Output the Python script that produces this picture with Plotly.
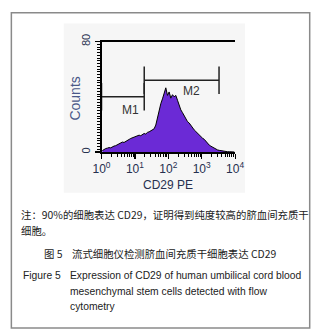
import numpy as np
import plotly.graph_objects as go

# ---------------- data ----------------
# histogram bins: centres in decades (log10 of CD29 PE channel), 0.05-decade wide
bin_log_centers = np.round(np.arange(0.025, 4.0, 0.05), 3)
counts = [
    1.0, 2.0, 2.5, 2.8, 3.2, 3.0, 3.8, 4.3, 4.6, 5.2,
    5.8, 6.4, 7.2, 6.9, 7.8, 8.6, 9.1, 9.8, 10.2, 10.8,
    11.0, 11.6, 12.2, 11.8, 12.5, 13.4, 13.0, 14.2, 14.6, 15.3,
    16.0, 16.8, 19.5, 25.0, 30.5, 35.0, 38.5, 42.0, 46.5, 41.0,
    43.5, 39.0, 41.5, 40.0, 41.0, 37.5, 33.0, 30.5, 28.5, 26.0,
    24.5, 22.0, 21.0, 19.0, 17.5, 16.0, 14.8, 13.5, 12.5, 11.0,
    10.0, 9.2, 7.5, 6.0, 5.0, 4.2, 3.4, 2.8, 2.0, 1.5,
    1.2, 0.9, 0.7, 0.5, 0.3, 0.2, 0.2, 0.1, 0.1, 0.0,
]
marker_names = ["M1", "M2"]
marker_lo = [1, 19]
marker_hi = [19, 3300]
marker_level = [40, 52]

x_tickvals = [1, 10, 100, 1000, 10000]
x_ticktext = ["10<sup>0</sup>", "10<sup>1</sup>", "10<sup>2</sup>", "10<sup>3</sup>", "10<sup>4</sup>"]
y_tickvals = [0, 80]
y_ticktext = ["0", "80"]

note_cn = ["注：90%的细胞表达 CD29，证明得到纯度较高的脐血间充质干", "细胞。"]
fig_cn_label = "图 5"
fig_cn_title = "流式细胞仪检测脐血间充质干细胞表达 CD29"
fig_en_label = "Figure 5"
fig_en_title = ["Expression of CD29 of human umbilical cord blood",
                "mesenchymal stem cells detected with flow",
                "cytometry"]

# ---------------- figure ----------------
W, H = 322, 333
def px(x):
    return x / W
def py(y):
    return 1 - y / H

LAT = "Liberation Sans, Arial, sans-serif"
CJK = "Noto Sans CJK SC, sans-serif"
NAVY = "#26304f"

fig = go.Figure()

fig.add_trace(go.Scatter(
    x=10 ** bin_log_centers, y=counts, mode="lines",
    line=dict(color="black", width=1), fill="tozeroy",
    fillcolor="#6b2ad6", hoverinfo="skip", showlegend=False))

TICK = 10
for name, lo, hi, lev in zip(marker_names, marker_lo, marker_hi, marker_level):
    fig.add_trace(go.Scatter(
        x=[lo, lo, None, lo, hi, None, hi, hi],
        y=[lev - TICK, lev + TICK, None, lev, lev, None, lev - TICK, lev + TICK],
        mode="lines", line=dict(color="#222", width=1.5),
        hoverinfo="skip", showlegend=False))

minor_x = [m * 10 ** e for e in range(4) for m in range(2, 10)]

fig.update_layout(
    width=W, height=H,
    margin=dict(l=0, r=0, t=0, b=0),
    paper_bgcolor="white", plot_bgcolor="rgba(0,0,0,0)",
    xaxis=dict(
        type="log", range=[0, 4], domain=[px(98), px(239.5)],
        showline=True, linecolor="black", linewidth=1.5, mirror=True,
        showgrid=False, zeroline=False,
        tickmode="array", tickvals=x_tickvals, ticktext=x_ticktext,
        ticks="outside", ticklen=5, tickwidth=1.2, tickcolor="black",
        tickfont=dict(family=LAT, size=12, color=NAVY),
        minor=dict(tickmode="array", tickvals=minor_x, ticks="outside",
                   ticklen=3, tickwidth=1, tickcolor="black"),
    ),
    yaxis=dict(
        range=[0, 80], domain=[py(148), py(34.5)],
        showline=True, linecolor="black", linewidth=2, mirror=False,
        showgrid=False, zeroline=False,
        tickmode="array", tickvals=y_tickvals, ticktext=y_ticktext,
        ticks="outside", ticklen=5, tickwidth=1.2, tickcolor="black",
        tickangle=-90,
        tickfont=dict(family=LAT, size=11, color=NAVY),
        minor=dict(dtick=2, ticks="outside", ticklen=3, tickwidth=1,
                   tickcolor="black"),
    ),
)

shapes = [
    dict(type="rect", xref="paper", yref="paper", x0=px(58), x1=px(250),
         y0=py(190), y1=py(16), fillcolor="#f6f6f6", line=dict(width=0),
         layer="below"),
    dict(type="rect", xref="paper", yref="paper", x0=px(2.5), x1=px(318.5),
         y0=py(329), y1=py(5), fillcolor="rgba(0,0,0,0)",
         line=dict(color="#8a8a8a", width=1.5), layer="above"),
]
fig.update_layout(shapes=shapes)

ann = []
def text(x, y, s, size=11, fam=LAT, color="#222", xanchor="left", angle=0):
    ann.append(dict(x=px(x), y=py(y), xref="paper", yref="paper", text=s,
                    showarrow=False, xanchor=xanchor, yanchor="middle",
                    textangle=angle, font=dict(family=fam, size=size, color=color)))

text(70, 93, "Counts", size=14, color="#4a5888", xanchor="center", angle=-90)
text(168.5, 182, "CD29 PE", size=12, color=NAVY, xanchor="center")

# marker labels in data coords (log axis uses decades)
ann.append(dict(x=0.88, y=30.5, xref="x", yref="y", text=marker_names[0],
                showarrow=False, font=dict(family=LAT, size=12, color="#333")))
ann.append(dict(x=2.69, y=44, xref="x", yref="y", text=marker_names[1],
                showarrow=False, font=dict(family=LAT, size=12, color="#333")))

text(11, 212, note_cn[0], size=10.4, fam=CJK)
text(11, 229, note_cn[1], size=10.4, fam=CJK)
text(35, 252, fig_cn_label, size=10.4, fam=CJK)
text(65, 252, fig_cn_title, size=10.4, fam=CJK)
text(12.5, 275, fig_en_label, size=10.3)
text(63, 275, fig_en_title[0], size=10.3)
text(63, 291, fig_en_title[1], size=10.3)
text(63, 307, fig_en_title[2], size=10.3)

fig.update_layout(annotations=ann)

fig.write_html(
    "out.html",
    config={"displayModeBar": False, "staticPlot": True},
    post_script="document.body.style.margin='0';document.body.style.overflow='hidden';",
)
